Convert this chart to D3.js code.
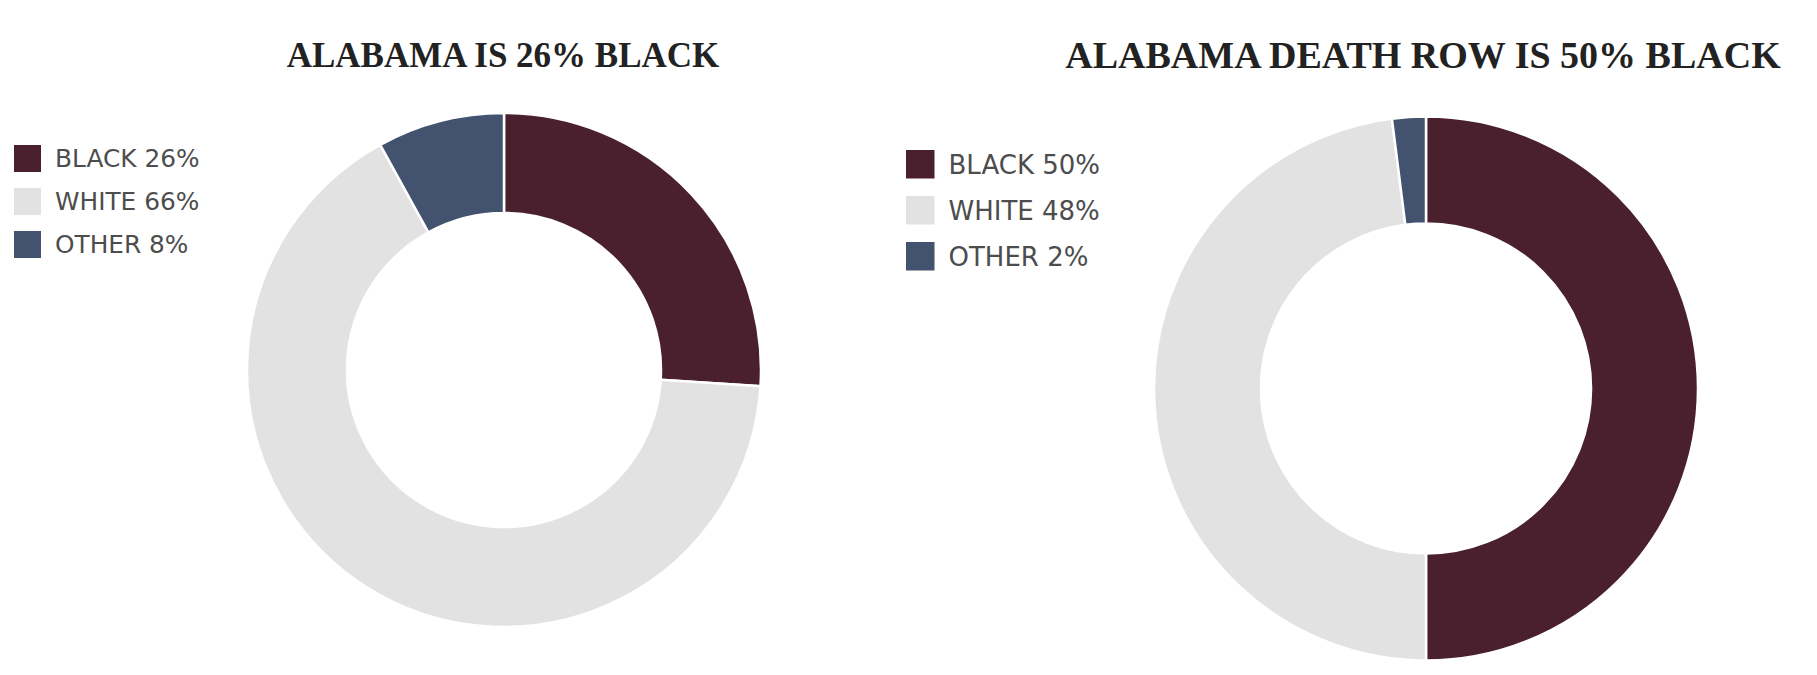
<!DOCTYPE html>
<html>
<head>
<meta charset="utf-8">
<script src="https://cdn.jsdelivr.net/npm/d3@7"></script>
<style>
  body { margin: 0; background: #fff; }
  svg { display: block; }
</style>
</head>
<body>
<svg id="chart"></svg>
<script>
// data
const categories = ["BLACK", "WHITE", "OTHER"];
const alabamaShare = [26, 66, 8];
const deathRowShare = [50, 48, 2];
const titles = ["ALABAMA IS 26% BLACK", "ALABAMA DEATH ROW IS 50% BLACK"];

const colors = d3.scaleOrdinal()
                 .domain(categories)
                 .range(["#4a202e", "#e2e2e2", "#43536f"]);

const width = 1817, height = 675;

const svg = d3.select("#chart")
              .attr("width", width)
              .attr("height", height);

// the two panels are not the same size in the source picture
const panels = [
  {values: alabamaShare, title: titles[0], cx: 504, cy: 370, outer: 257, inner: 157,
   titleX: 503, titleY: 67, titleSize: 35,
   legendX: 14, legendY: 145, swatch: 27, step: 43, fontSize: 24.8},
  {values: deathRowShare, title: titles[1], cx: 1426, cy: 388.5, outer: 272, inner: 165,
   titleX: 1423, titleY: 68, titleSize: 38,
   legendX: 906, legendY: 150, swatch: 28.5, step: 46, fontSize: 26}
]

const pie = d3.pie()
              .sort(null)
              .value(d => d.value)

panels.forEach(p => {
    const rows = categories.map((c, i) => ({cat: c, value: p.values[i]}))

    const arc = d3.arc()
                  .innerRadius(p.inner)
                  .outerRadius(p.outer)

    const g = svg.append("g")
                 .attr("transform", `translate(${p.cx},${p.cy})`)

    g.selectAll("path")
     .data(pie(rows))
     .join("path")
     .attr("d", arc)
     .attr("fill", d => colors(d.data.cat))
     .attr("stroke", "#fff")
     .attr("stroke-width", 2.5)

    svg.append("text")
       .attr("x", p.titleX)
       .attr("y", p.titleY)
       .attr("text-anchor", "middle")
       .attr("font-family", "Liberation Serif")
       .attr("font-weight", "bold")
       .attr("font-size", p.titleSize)
       .attr("fill", "#222")
       .text(p.title)

    const legend = svg.append("g")
                      .attr("transform", `translate(${p.legendX},${p.legendY})`)

    const item = legend.selectAll("g")
                       .data(rows)
                       .join("g")
                       .attr("transform", (d, i) => `translate(0,${i * p.step})`)

    item.append("rect")
        .attr("width", p.swatch)
        .attr("height", p.swatch)
        .attr("fill", d => colors(d.cat))

    item.append("text")
        .attr("x", p.swatch + 14)
        .attr("y", p.swatch / 2)
        .attr("dy", "0.36em")
        .attr("font-family", "DejaVu Sans")
        .attr("font-size", p.fontSize)
        .attr("fill", "#4d4d4d")
        .text(d => `${d.cat} ${d.value}%`)
})
</script>
</body>
</html>
